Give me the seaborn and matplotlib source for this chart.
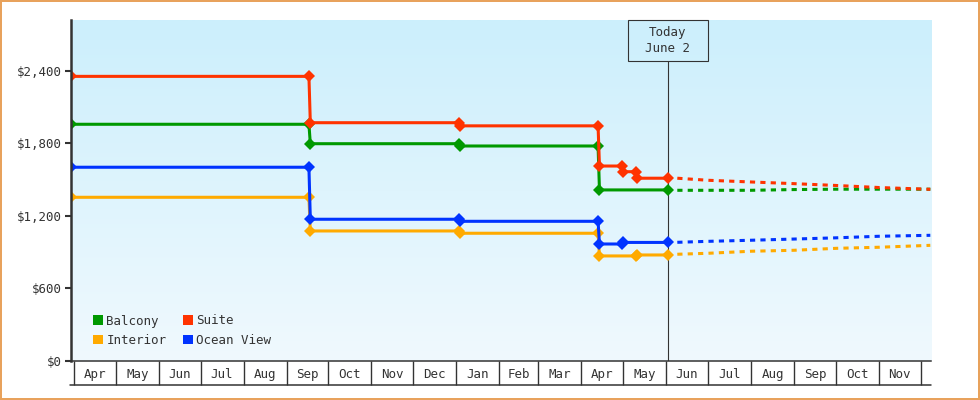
import matplotlib
matplotlib.use("Agg")
import matplotlib.pyplot as plt
import matplotlib.dates as mdates
import matplotlib.transforms as mtrans
from matplotlib.patches import Rectangle, Patch
from matplotlib.lines import Line2D
from matplotlib.colors import LinearSegmentedColormap
import numpy as np
import pandas as pd
import seaborn as sns

# ---------------- data ----------------
cabins = ["Balcony", "Interior", "Suite", "Ocean View"]
colors = ["#009900", "#ffaa00", "#ff3300", "#0033ff"]

balcony_dates = ["2024-03-30", "2024-09-17", "2024-09-18", "2025-01-03", "2025-01-04",
                 "2025-04-13", "2025-04-14", "2025-06-02"]
balcony_prices = [1959, 1959, 1798, 1798, 1779, 1779, 1415, 1415]

interior_dates = ["2024-03-30", "2024-09-17", "2024-09-18", "2025-01-03", "2025-01-04",
                  "2025-04-13", "2025-04-14", "2025-05-10", "2025-05-11", "2025-06-02"]
interior_prices = [1354, 1354, 1075, 1075, 1056, 1056, 868, 868, 876, 876]

suite_dates = ["2024-03-30", "2024-09-17", "2024-09-18", "2025-01-03", "2025-01-04",
               "2025-04-13", "2025-04-14", "2025-04-30", "2025-05-01", "2025-05-10",
               "2025-05-11", "2025-06-02"]
suite_prices = [2356, 2356, 1972, 1972, 1946, 1946, 1613, 1613, 1566, 1566, 1512, 1512]

ocean_dates = ["2024-03-30", "2024-09-17", "2024-09-18", "2025-01-03", "2025-01-04",
               "2025-04-13", "2025-04-14", "2025-04-30", "2025-05-01", "2025-06-02"]
ocean_prices = [1603, 1603, 1172, 1172, 1155, 1155, 967, 967, 980, 980]

forecast_dates = ["2025-06-09", "2025-07-01", "2025-08-01", "2025-09-01",
                  "2025-10-01", "2025-11-01", "2025-12-08"]
balcony_forecast = [1412, 1412, 1412, 1418, 1421, 1421, 1421]
interior_forecast = [882, 890, 907, 915, 931, 940, 956]
suite_forecast = [1512, 1495, 1481, 1467, 1452, 1435, 1420]
ocean_forecast = [981, 989, 998, 1008, 1018, 1031, 1039]

month_starts = ["2024-04-01", "2024-05-01", "2024-06-01", "2024-07-01", "2024-08-01",
                "2024-09-01", "2024-10-01", "2024-11-01", "2024-12-01", "2025-01-01",
                "2025-02-01", "2025-03-01", "2025-04-01", "2025-05-01", "2025-06-01",
                "2025-07-01", "2025-08-01", "2025-09-01", "2025-10-01", "2025-11-01",
                "2025-12-01"]
month_labels = ["Apr", "May", "Jun", "Jul", "Aug", "Sep", "Oct", "Nov", "Dec", "Jan",
                "Feb", "Mar", "Apr", "May", "Jun", "Jul", "Aug", "Sep", "Oct", "Nov"]

y_ticks = [0, 600, 1200, 1800, 2400]
y_labels = ["$0", "$600", "$1,200", "$1,800", "$2,400"]

today_date = "2025-06-02"
today_text = "Today\nJune 2"

# ---------------- frames ----------------
hist = pd.concat([
    pd.DataFrame({"date": pd.to_datetime(balcony_dates), "price": balcony_prices, "cabin": "Balcony"}),
    pd.DataFrame({"date": pd.to_datetime(interior_dates), "price": interior_prices, "cabin": "Interior"}),
    pd.DataFrame({"date": pd.to_datetime(suite_dates), "price": suite_prices, "cabin": "Suite"}),
    pd.DataFrame({"date": pd.to_datetime(ocean_dates), "price": ocean_prices, "cabin": "Ocean View"}),
], ignore_index=True)
fc_d = pd.to_datetime(forecast_dates)
fore = pd.concat([
    pd.DataFrame({"date": fc_d, "price": balcony_forecast, "cabin": "Balcony"}),
    pd.DataFrame({"date": fc_d, "price": interior_forecast, "cabin": "Interior"}),
    pd.DataFrame({"date": fc_d, "price": suite_forecast, "cabin": "Suite"}),
    pd.DataFrame({"date": fc_d, "price": ocean_forecast, "cabin": "Ocean View"}),
], ignore_index=True)

# ---------------- style ----------------
sns.set_theme(style="white")
plt.rcParams["font.family"] = ["DejaVu Sans Mono", "DejaVu Sans"]
plt.rcParams["text.color"] = "#333333"
plt.rcParams["xtick.color"] = "#333333"
plt.rcParams["ytick.color"] = "#333333"
palette = dict(zip(cabins, colors))

W, H = 980, 400
fig = plt.figure(figsize=(9.8, 4.0), dpi=100)
fig.patch.set_facecolor("white")
fig.patch.set_edgecolor("#e8a25c")
fig.patch.set_linewidth(1.5)
ax_l, ax_r, ax_t, ax_b = 71, 931, 20, 360.7
rect = [ax_l / W, 1 - ax_b / H, (ax_r - ax_l) / W, (ax_b - ax_t) / H]

# gradient background
bg = fig.add_axes(rect, zorder=0)
grad = np.linspace(0, 1, 256).reshape(-1, 1)
cmap = LinearSegmentedColormap.from_list("bg", ["#f0f9fe", "#cceffc"])
bg.imshow(grad, origin="lower", aspect="auto", cmap=cmap, extent=[0, 1, 0, 1])
bg.set_axis_off()

ax = fig.add_axes(rect, zorder=1)
ax.patch.set_alpha(0)

lw = 2.2
for cab in cabins:
    sub = hist[hist.cabin == cab]
    sns.lineplot(data=sub, x="date", y="price", color=palette[cab], ax=ax,
                 estimator=None, sort=False, linewidth=lw, marker="D",
                 markersize=6, markeredgewidth=0, legend=False)
for cab in cabins:
    sub = fore[fore.cabin == cab]
    sns.lineplot(data=sub, x="date", y="price", color=palette[cab], ax=ax,
                 estimator=None, sort=False, linewidth=lw,
                 linestyle=(0, (1.7, 1.7)), legend=False)

# limits
ms_num = mdates.date2num(pd.to_datetime(month_starts))
xl = ms_num[0] - 2.16
xr = ms_num[-1] + 7.5
ax.set_xlim(xl, xr)
ax.set_ylim(0, 2823)

# y axis
ax.set_yticks(y_ticks)
ax.set_yticklabels(y_labels)
ax.tick_params(axis="y", length=4.3, width=1.5, pad=2, labelsize=9, colors="#333333", left=True)

# x axis: month cells
mids = (ms_num[:-1] + ms_num[1:]) / 2
ax.set_xticks(mids)
ax.set_xticklabels(month_labels)
ax.set_xticks(ms_num, minor=True)
ax.tick_params(axis="x", which="major", length=0, pad=5, labelsize=9)
ax.tick_params(axis="x", which="minor", length=17.5, width=1.0, color="#333333",
               direction="out", bottom=True)
ax.set_xlabel("")
ax.set_ylabel("")

for s in ["top", "right"]:
    ax.spines[s].set_visible(False)
ax.spines["left"].set_color("#333333")
ax.spines["left"].set_linewidth(1.8)
ax.spines["bottom"].set_color("#333333")
ax.spines["bottom"].set_linewidth(1.1)

cell_h = 24.5 / (ax_b - ax_t)
ax.add_line(Line2D([-0.0015, 1.0], [-cell_h, -cell_h], transform=ax.transAxes,
                   color="#333333", lw=1.1, clip_on=False))

# today marker
today = mdates.date2num(pd.Timestamp(today_date))
box_h = 41 / (ax_b - ax_t)
blend = mtrans.blended_transform_factory(ax.transData, ax.transAxes)
ax.axvline(today, ymin=0, ymax=1 - box_h, color="#333333", lw=0.8, zorder=0.5)
ax.add_patch(Rectangle((today - 28.8, 1 - box_h), 57.6, box_h, transform=blend,
                       fill=False, edgecolor="#333333", lw=0.8, clip_on=False))
ax.text(today, 1 - 20.5 / (ax_b - ax_t), today_text, transform=blend, ha="center",
        va="center", fontsize=9, color="#333333", linespacing=1.35)

# legend
handles = [Patch(facecolor=palette[c], edgecolor="none") for c in cabins]
ax.legend(handles, cabins, ncol=2, loc="upper left",
          bbox_to_anchor=((93.3 - ax_l) / (ax_r - ax_l), 1 - (314.5 - ax_t) / (ax_b - ax_t)),
          frameon=False, fontsize=9, handlelength=0.8, handleheight=0.8,
          handletextpad=0.25, columnspacing=1.3, labelspacing=0.5,
          borderpad=0, borderaxespad=0)

fig.savefig("out.png", dpi=100, edgecolor=fig.get_edgecolor())
